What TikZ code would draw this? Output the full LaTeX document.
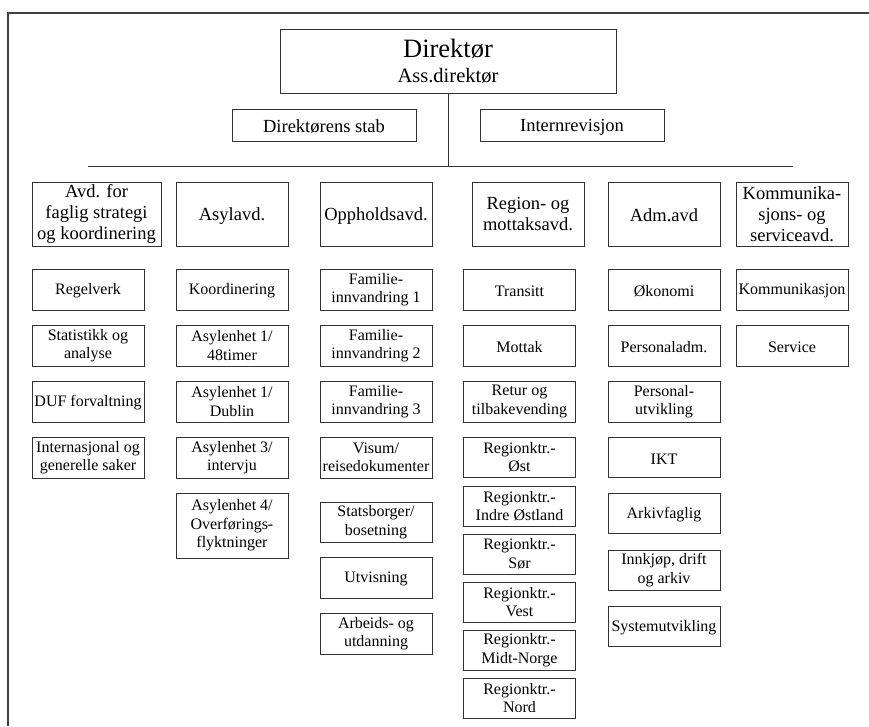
\documentclass[tikz,border=0pt]{standalone}
\usepackage{fontspec}
\setmainfont{Liberation Serif}
\begin{document}
\begin{tikzpicture}[x=1pt,y=-1pt,
    drop/.style={execute at begin node={\rule{0pt}{#1}}},
    unit/.style={draw=black!80,line width=0.8pt,inner sep=0pt,align=center,drop=14pt,
      font=\fontsize{16}{18.5}\selectfont,minimum width=112pt,minimum height=41pt},
    low/.style={unit,minimum height=40pt},
    dept/.style={unit,font=\fontsize{18.5}{21}\selectfont,minimum height=64pt,drop=16pt},
    staff/.style={unit,font=\fontsize{18.5}{21}\selectfont,minimum width=184pt,minimum height=32pt,drop=16pt},
    link/.style={draw=black!80,line width=0.8pt}]
                \useasboundingbox (0,0) rectangle (869,726);
                \draw[black!75,line width=1.3pt] (869,13) -- (8,13) -- (8,726);

                % ledelse
                \path (448,61) node[unit,minimum width=336pt,minimum height=64pt,drop=31pt,
                  font=\fontsize{26.5}{28}\selectfont] (dir)
                  {Direktør\\[-3pt]{\fontsize{20.5}{22}\selectfont Ass.direktør}};
                \path (324,125) node[staff] (stab) {Direktørens stab};
                \path (572,125) node[staff] (revisjon) {Internrevisjon};

                \coordinate (barL) at (88,166);
                \coordinate (barM) at (448,166);
                \coordinate (barR) at (793,166);
                \draw[link] (dir.south) -- (barM);
                \draw[link] (barL) -- (barR);

                % avdelinger
                \path (96.5,214) node[dept,minimum width=129pt] (avd) {Avd. for\\faglig strategi\\og koordinering};
                \path (232,214) node[dept] (asylavd) {Asylavd.};
                \path (376,214) node[dept] (opphold) {Oppholdsavd.};
                \path (528,214) node[dept] (region) {Region- og\\mottaksavd.};
                \path (664,214) node[dept] (adm) {Adm.avd};
                \path (792,214) node[dept] (kommavd) {Kommunika-\\sjons- og\\serviceavd.};

                % avd. for faglig strategi
                \path (88,289.5) node[unit] (regelverk) {Regelverk};
                \path (88,345.5) node[unit] (statistikk) {Statistikk og\\analyse};
                \path (88,401.5) node[unit] (duf) {DUF forvaltning};
                \path (88,457.5) node[unit] (internasjonal) {Internasjonal og\\generelle saker};

                % asylavd.
                \path (232,289.5) node[unit] (koord) {Koordinering};
                \path (232,345.5) node[unit] (asylA) {Asylenhet 1/\\48timer};
                \path (232,401.5) node[unit] (asylB) {Asylenhet 1/\\Dublin};
                \path (232,457.5) node[unit] (asylC) {Asylenhet 3/\\intervju};
                \path (232,525.5) node[unit,minimum height=65pt] (asylD) {Asylenhet 4/\\Overførings-\\flyktninger};

                % oppholdsavd.
                \path (376,289.5) node[unit] (famA) {Familie-\\innvandring 1};
                \path (376,345.5) node[unit] (famB) {Familie-\\innvandring 2};
                \path (376,401.5) node[unit] (famC) {Familie-\\innvandring 3};
                \path (376,457.5) node[unit] (visum) {Visum/\\reisedokumenter};
                \path (376,522) node[low] (statsborger) {Statsborger/\\bosetning};
                \path (376,577.5) node[unit] (utvisning) {Utvisning};
                \path (376,633.5) node[unit] (arbeid) {Arbeids- og\\utdanning};

                % region- og mottaksavd.
                \path (519.5,289.5) node[unit] (transitt) {Transitt};
                \path (519.5,345.5) node[unit] (mottak) {Mottak};
                \path (519.5,401.5) node[unit] (retur) {Retur og\\tilbakevending};
                \path (519.5,457) node[low] (rkOst) {Regionktr.-\\Øst};
                \path (519.5,506) node[low] (rkIndre) {Regionktr.-\\Indre Østland};
                \path (519.5,554) node[low] (rkSor) {Regionktr.-\\Sør};
                \path (519.5,602) node[low] (rkVest) {Regionktr.-\\Vest};
                \path (519.5,650) node[low] (rkMidt) {Regionktr.-\\Midt-Norge};
                \path (519.5,698) node[low] (rkNord) {Regionktr.-\\Nord};

                % adm.avd
                \path (664,289.5) node[unit] (okonomi) {Økonomi};
                \path (664,345.5) node[unit] (persadm) {Personaladm.};
                \path (664,401.5) node[unit] (persutv) {Personal-\\utvikling};
                \path (664,457) node[low] (ikt) {IKT};
                \path (664,513.5) node[low] (arkiv) {Arkivfaglig};
                \path (664,570) node[low] (innkjop) {Innkjøp, drift\\og arkiv};
                \path (664,626) node[low] (system) {Systemutvikling};

                % kommunikasjons- og serviceavd.
                \path (792,289.5) node[unit] (kommunikasjon) {Kommunikasjon};
                \path (792,345.5) node[unit] (service) {Service};
              \end{tikzpicture}
\end{document}
